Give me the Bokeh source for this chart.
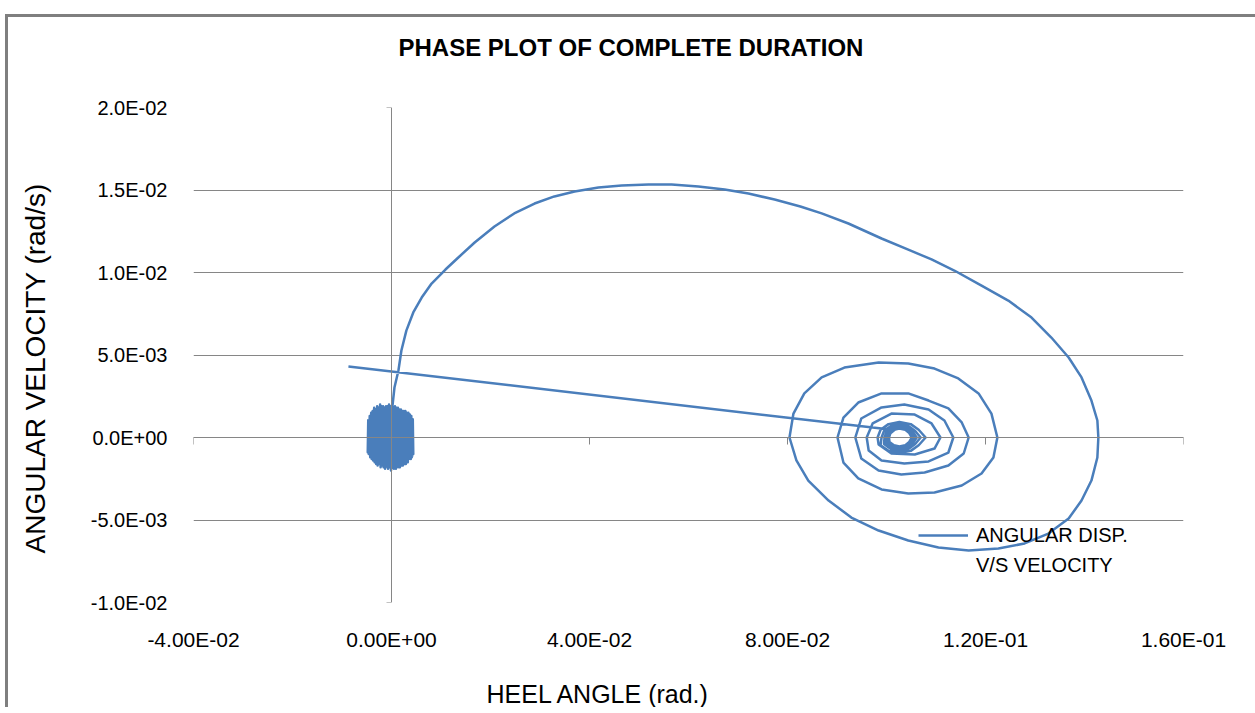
import numpy as np
from bokeh.plotting import figure
from bokeh.models import (Range1d, LinearAxis, FixedTicker, Title, Legend,
                          LegendItem, CustomJSTickFormatter)
from bokeh.embed import file_html
from bokeh.resources import INLINE

# ---------------- data ----------------
title_text = "PHASE PLOT OF COMPLETE DURATION"
x_label = "HEEL ANGLE   (rad.)"
y_label = "ANGULAR VELOCITY  (rad/s)"
series_name = ["ANGULAR DISP.", "V/S VELOCITY"]

x_ticks = [-0.04, 0.0, 0.04, 0.08, 0.12, 0.16]
x_tick_labels = ["-4.00E-02", "0.00E+00", "4.00E-02", "8.00E-02", "1.20E-01", "1.60E-01"]
y_ticks = [-0.01, -0.005, 0.0, 0.005, 0.01, 0.015, 0.02]
y_tick_labels = ["-1.0E-02", "-5.0E-03", "0.0E+00", "5.0E-03", "1.0E-02", "1.5E-02", "2.0E-02"]

# initial small oscillation around the upright position (heel angle, velocity)
osc_heel = [
    -0.0047, -0.0046, -0.0044, -0.0043, -0.0041, -0.0040, -0.0038, -0.0037, -0.0035, -0.0034,
    -0.0032, -0.0031, -0.0029, -0.0028, -0.0026, -0.0025, -0.0023, -0.0022, -0.0020, -0.0019,
    -0.0017, -0.0016, -0.0014, -0.0013, -0.0011, -0.0010, -0.0008, -0.0007, -0.0005, -0.0004,
    -0.0002, -0.0001, 0.0001, 0.0002, 0.0004, 0.0005, 0.0007, 0.0008, 0.0010, 0.0011,
    0.0013, 0.0014, 0.0016, 0.0017, 0.0019, 0.0020, 0.0022, 0.0023, 0.0025, 0.0026,
    0.0028, 0.0029, 0.0031, 0.0032, 0.0034, 0.0035, 0.0037, 0.0038, 0.0040, 0.0041,
    0.0043, 0.0044,
    0.0043, 0.0042, 0.0040, 0.0039, 0.0037, 0.0036, 0.0034, 0.0033, 0.0031, 0.0030,
    0.0028, 0.0027, 0.0025, 0.0024, 0.0022, 0.0021, 0.0019, 0.0018, 0.0016, 0.0015,
    0.0013, 0.0012, 0.0010, 0.0009, 0.0007, 0.0006, 0.0004, 0.0003, 0.0001, 0.0000,
    -0.0002, -0.0003, -0.0005, -0.0006, -0.0008, -0.0009, -0.0011, -0.0012, -0.0014, -0.0015,
    -0.0017, -0.0018, -0.0020, -0.0021, -0.0023, -0.0024, -0.0026, -0.0027, -0.0029, -0.0030,
    -0.0032, -0.0033, -0.0035, -0.0036, -0.0038, -0.0039, -0.0041, -0.0042, -0.0044, -0.0045,
    -0.0047, -0.0048,
    -0.0045, -0.0030, -0.0015, -0.0005, 0.0001,
]
osc_vel = [
    0.0011, -0.0010, 0.0013, -0.0012, 0.0015, -0.0013, 0.0016, -0.0014, 0.0018, -0.0015,
    0.0017, -0.0016, 0.0019, -0.0017, 0.0018, -0.0016, 0.0020, -0.0018, 0.0018, -0.0017,
    0.0019, -0.0018, 0.0017, -0.0019, 0.0019, -0.0017, 0.0018, -0.0019, 0.0020, -0.0018,
    0.0018, -0.0020, 0.0019, -0.0018, 0.0017, -0.0019, 0.0019, -0.0017, 0.0016, -0.0018,
    0.0018, -0.0017, 0.0015, -0.0018, 0.0017, -0.0016, 0.0016, -0.0017, 0.0014, -0.0015,
    0.0016, -0.0016, 0.0013, -0.0014, 0.0015, -0.0013, 0.0012, -0.0012, 0.0013, -0.0012,
    0.0011, -0.0010,
    0.0009, -0.0011, 0.0012, -0.0013, 0.0014, -0.0012, 0.0013, -0.0015, 0.0015, -0.0014,
    0.0013, -0.0016, 0.0016, -0.0015, 0.0014, -0.0017, 0.0016, -0.0016, 0.0017, -0.0018,
    0.0015, -0.0017, 0.0018, -0.0019, 0.0016, -0.0018, 0.0018, -0.0017, 0.0017, -0.0019,
    0.0019, -0.0017, 0.0017, -0.0018, 0.0019, -0.0016, 0.0017, -0.0018, 0.0018, -0.0016,
    0.0017, -0.0017, 0.0019, -0.0015, 0.0017, -0.0016, 0.0018, -0.0015, 0.0016, -0.0014,
    0.0016, -0.0015, 0.0014, -0.0013, 0.0015, -0.0012, 0.0013, -0.0011, 0.0012, -0.0010,
    0.0010, -0.0009,
    0.0008, -0.0012, 0.0014, -0.0010, 0.0012,
]

# large excursion and decaying spiral towards the new equilibrium heel
roll_heel = [
    0.0002, 0.0006, 0.0014, 0.0020, 0.0030, 0.0044, 0.0061, 0.0081, 0.0109, 0.0135,
    0.0168, 0.0208, 0.0248, 0.0289, 0.0329, 0.0370, 0.0418, 0.0465, 0.0519, 0.0566,
    0.0620, 0.0673, 0.0721, 0.0774, 0.0826, 0.0869, 0.0923, 0.0990, 0.1044, 0.1091,
    0.1137, 0.1192, 0.1246, 0.1293, 0.1333, 0.1368, 0.1394, 0.1414, 0.1426, 0.1428,
    0.1426, 0.1414, 0.1394, 0.1368, 0.1327, 0.1279, 0.1226, 0.1166, 0.1105, 0.1044,
    0.0984, 0.0929, 0.0883, 0.0842, 0.0818, 0.0804, 0.0812, 0.0834, 0.0869, 0.0915,
    0.0984, 0.1044, 0.1097, 0.1145, 0.1186, 0.1212, 0.1224, 0.1216, 0.1192, 0.1152,
    0.1097, 0.1044, 0.0990, 0.0943, 0.0913, 0.0901, 0.0913, 0.0943, 0.0990, 0.1044,
    0.1085, 0.1125, 0.1152, 0.1166, 0.1156, 0.1125, 0.1077, 0.1030, 0.0984, 0.0949,
    0.0937, 0.0949, 0.0990, 0.1036, 0.1085, 0.1117, 0.1135, 0.1125, 0.1085, 0.1036,
    0.0990, 0.0964, 0.0960, 0.0972, 0.1010, 0.1057, 0.1091, 0.1109, 0.1097, 0.1057,
    0.1010, 0.0984,
    0.0982, 0.0988, 0.1004, 0.1026, 0.1049, 0.1065, 0.1079, 0.1065, 0.1049, 0.1026, 0.1004, 0.0988,
    0.0990, 0.0995, 0.1008, 0.1026, 0.1045, 0.1058, 0.1069, 0.1058, 0.1045, 0.1026, 0.1008, 0.0995,
    0.0996, 0.1000, 0.1011, 0.1026, 0.1041, 0.1053, 0.1061, 0.1053, 0.1041, 0.1026, 0.1011, 0.1000,
    0.1000, 0.1004, 0.1013, 0.1026, 0.1039, 0.1049, 0.1055, 0.1049, 0.1039, 0.1026, 0.1013, 0.1004,
    0.1003, 0.1006, 0.1015, 0.1026, 0.1038, 0.1046, 0.1051, 0.1046, 0.1038, 0.1026, 0.1015, 0.1006,
    0.1005, 0.1008, 0.1016,
]
roll_vel = [
    0.00194, 0.00303, 0.00406, 0.00527, 0.00648, 0.00758, 0.00848, 0.00933, 0.01018, 0.01091,
    0.01182, 0.01279, 0.01358, 0.01418, 0.01461, 0.01491, 0.01515, 0.01527, 0.01533, 0.01533,
    0.01521, 0.01503, 0.01479, 0.01442, 0.01400, 0.01358, 0.01297, 0.01206, 0.01139, 0.01079,
    0.01012, 0.00921, 0.00830, 0.00727, 0.00606, 0.00485, 0.00364, 0.00224, 0.00103, 0.00000,
    -0.00121, -0.00261, -0.00382, -0.00491, -0.00582, -0.00642, -0.00673, -0.00685, -0.00667, -0.00624,
    -0.00564, -0.00485, -0.00382, -0.00261, -0.00139, 0.00000, 0.00145, 0.00267, 0.00364, 0.00424,
    0.00455, 0.00448, 0.00418, 0.00358, 0.00267, 0.00145, 0.00000, -0.00121, -0.00218, -0.00291,
    -0.00333, -0.00339, -0.00315, -0.00248, -0.00152, 0.00000, 0.00121, 0.00212, 0.00267, 0.00267,
    0.00224, 0.00176, 0.00091, 0.00000, -0.00097, -0.00170, -0.00212, -0.00224, -0.00200, -0.00127,
    0.00000, 0.00115, 0.00182, 0.00200, 0.00170, 0.00103, 0.00000, -0.00091, -0.00145, -0.00158,
    -0.00139, -0.00079, 0.00000, 0.00085, 0.00145, 0.00139, 0.00085, 0.00000, -0.00067, -0.00103,
    -0.00097, -0.00042,
    0.00000, 0.00047, 0.00081, 0.00094, 0.00081, 0.00047, 0.00000, -0.00047, -0.00081, -0.00094, -0.00081, -0.00047,
    0.00000, 0.00039, 0.00068, 0.00079, 0.00068, 0.00039, 0.00000, -0.00039, -0.00068, -0.00079, -0.00068, -0.00039,
    0.00000, 0.00035, 0.00060, 0.00070, 0.00060, 0.00035, 0.00000, -0.00035, -0.00060, -0.00070, -0.00060, -0.00035,
    0.00000, 0.00030, 0.00052, 0.00061, 0.00052, 0.00030, 0.00000, -0.00030, -0.00052, -0.00061, -0.00052, -0.00030,
    0.00000, 0.00027, 0.00047, 0.00055, 0.00047, 0.00027, 0.00000, -0.00027, -0.00047, -0.00055, -0.00047, -0.00027,
    0.00000, 0.00026, 0.00045,
]

# last recorded sample
last_heel = [-0.0087]
last_vel = [0.0043]

# ---------------- styling ----------------
FONT = "Liberation Sans"
LINE_COLOR = "#4A7EBB"
GRID_COLOR = "#868686"

heel = np.concatenate([osc_heel, roll_heel, last_heel])
vel = np.concatenate([osc_vel, roll_vel, last_vel])

p = figure(frame_width=990, frame_height=495,
           x_range=Range1d(-0.04, 0.16), y_range=Range1d(-0.01, 0.02),
           output_backend="svg", toolbar_location=None,
           min_border_left=185, min_border_right=72,
           min_border_top=90, min_border_bottom=105,
           background_fill_color="white", border_fill_color="white")
p.outline_line_color = None

label_fmt = """
let best = 0, d = Infinity;
for (let i = 0; i < tv.length; i++) {
  const e = Math.abs(tv[i] - tick);
  if (e < d) { d = e; best = i; }
}
return tl[best];
"""

# labels-only axes at the frame edges
xa = p.xaxis[0]
xa.ticker = FixedTicker(ticks=x_ticks)
xa.formatter = CustomJSTickFormatter(args=dict(tv=x_ticks, tl=x_tick_labels), code=label_fmt)
xa.axis_line_color = None
xa.major_tick_line_color = None
xa.minor_tick_line_color = None
xa.major_tick_out = 0
xa.major_tick_in = 0
xa.major_label_standoff = 25
xa.major_label_text_font = FONT
xa.major_label_text_font_size = "21px"
xa.major_label_text_color = "black"

ya = p.yaxis[0]
ya.ticker = FixedTicker(ticks=y_ticks)
ya.formatter = CustomJSTickFormatter(args=dict(tv=y_ticks, tl=y_tick_labels), code=label_fmt)
ya.axis_line_color = None
ya.major_tick_line_color = None
ya.minor_tick_line_color = None
ya.major_tick_out = 0
ya.major_tick_in = 0
ya.major_label_standoff = 26
ya.major_label_text_font = FONT
ya.major_label_text_font_size = "20px"
ya.major_label_text_color = "black"

# axis lines crossing at the origin
x0 = LinearAxis(fixed_location=0, ticker=FixedTicker(ticks=x_ticks),
                formatter=CustomJSTickFormatter(code="return '';"),
                axis_line_color=GRID_COLOR, axis_line_width=1,
                major_tick_line_color=GRID_COLOR, major_tick_out=7, major_tick_in=0,
                minor_tick_line_color=None, major_label_text_font_size="1px")
p.add_layout(x0, "below")
y0 = LinearAxis(fixed_location=0, ticker=FixedTicker(ticks=y_ticks),
                formatter=CustomJSTickFormatter(code="return '';"),
                axis_line_color=GRID_COLOR, axis_line_width=1,
                major_tick_line_color=GRID_COLOR, major_tick_out=5, major_tick_in=0,
                minor_tick_line_color=None, major_label_text_font_size="1px")
p.add_layout(y0, "left")

p.xgrid.visible = False
p.ygrid.ticker = FixedTicker(ticks=y_ticks)
p.ygrid.grid_line_color = GRID_COLOR
p.ygrid.grid_line_width = 1

# chart title (outer) with a blank spacer between it and the plot area
p.title.text = title_text
p.title.align = "left"
p.title.offset = 205
p.title.standoff = 0
p.title.text_font = FONT
p.title.text_font_size = "24px"
p.title.text_font_style = "bold"
p.title.text_color = "black"
p.add_layout(Title(text=" ", text_font_size="1px", standoff=44), "above")

# axis titles, each separated from the tick labels by a blank spacer
p.add_layout(Title(text=" ", text_font_size="1px", standoff=21), "below")
p.add_layout(Title(text=x_label, align="left", offset=293, standoff=0,
                   text_font=FONT, text_font_size="25px", text_font_style="normal",
                   text_color="black"), "below")

p.add_layout(Title(text=" ", text_font_size="1px", standoff=34), "left")
p.add_layout(Title(text=y_label, align="left", offset=49, standoff=0,
                   text_font=FONT, text_font_size="28px", text_font_style="normal",
                   text_color="black"), "left")

# data
r = p.line(heel, vel, line_color=LINE_COLOR, line_width=2.5, line_join="round")
dummy = p.line(heel[:1], vel[:1], line_color=LINE_COLOR, line_alpha=0)

legend = Legend(items=[LegendItem(label=series_name[0], renderers=[r]),
                       LegendItem(label=series_name[1], renderers=[dummy])],
                location=(725, 22), glyph_width=50, glyph_height=30, label_height=30,
                label_standoff=8, spacing=0, padding=0, margin=0,
                border_line_color=None, background_fill_alpha=0,
                label_text_font=FONT, label_text_font_size="20px", label_text_color="black")
p.add_layout(legend)

p.styles = {"border-top": "3px solid #7f7f7f", "border-left": "3px solid #7f7f7f",
            "margin-top": "14px", "margin-left": "5px"}

open("out.html", "w").write(file_html(p, INLINE))
